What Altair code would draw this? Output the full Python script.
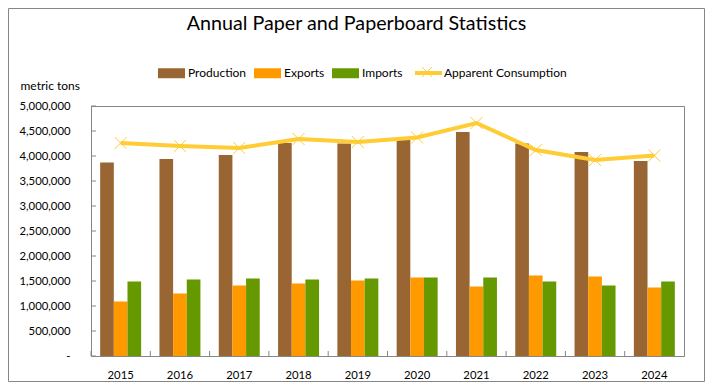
import altair as alt
import pandas as pd

# ---- data ----
years = ["2015", "2016", "2017", "2018", "2019", "2020", "2021", "2022", "2023", "2024"]
production = [3870000, 3940000, 4020000, 4260000, 4250000, 4330000, 4480000, 4250000, 4080000, 3900000]
exports = [1090000, 1250000, 1410000, 1450000, 1510000, 1570000, 1390000, 1610000, 1590000, 1370000]
imports = [1490000, 1530000, 1550000, 1530000, 1550000, 1570000, 1570000, 1490000, 1410000, 1490000]
consumption = [4260000, 4200000, 4160000, 4340000, 4280000, 4370000, 4660000, 4120000, 3920000, 4010000]

series_names = ["Production", "Exports", "Imports"]
bar_colors = ["#996633", "#FF9900", "#669900"]
line_name = "Apparent Consumption"
marker_name = "marker"
line_color = "#FFCC33"
y_ticks = [0, 500000, 1000000, 1500000, 2000000, 2500000, 3000000, 3500000, 4000000, 4500000, 5000000]

rows = []
for name, vals in zip(series_names, [production, exports, imports]):
    for yr, v in zip(years, vals):
        rows.append({"year": yr, "series": name, "value": v})
bars_df = pd.DataFrame(rows)
line_df = pd.DataFrame({"year": years, "value": consumption,
                        "lineSeries": line_name, "markSeries": marker_name})
ytick_df = pd.DataFrame({"value": y_ticks})
xtick_df = pd.DataFrame({"year": years})

FONT = "Lato"
GRAY = "#868686"
FS = 11.3
LFS = 12

P_INNER = 0.309
P_OUTER = 0.1545
WIDTH = 593
HEIGHT = 250
STEP = WIDTH / (len(years) - P_INNER + 2 * P_OUTER)

x_axis = alt.Axis(title=None, labelAngle=0, labelFont=FONT, labelFontSize=FS, labelColor="#000000",
                  labelPadding=13, ticks=False, grid=False)
y_axis = alt.Axis(title="metric tons", titleAngle=0, titleX=-71, titleY=-21, titleAlign="left",
                  titleBaseline="middle", titleFont=FONT, titleFontSize=LFS, titleFontWeight="normal",
                  titleColor="#000000", values=y_ticks,
                  labelExpr="datum.value == 0 ? '-\u00a0\u00a0' : format(datum.value, ',')",
                  labelFont=FONT, labelFontSize=FS, labelColor="#000000", labelPadding=21,
                  ticks=False, grid=False)

x_scale = alt.Scale(domain=years, paddingInner=P_INNER, paddingOuter=P_OUTER)
y_scale = alt.Scale(domain=[0, 5000000], nice=False)
x_enc = alt.X("year:O", sort=years, scale=x_scale, axis=x_axis)
y_enc = alt.Y("value:Q", scale=y_scale, axis=y_axis)

bars = alt.Chart(bars_df).mark_bar().encode(
    x=x_enc,
    y=y_enc,
    xOffset=alt.XOffset("series:N", sort=series_names,
                        scale=alt.Scale(domain=series_names, paddingInner=0, paddingOuter=0)),
    color=alt.Color("series:N", sort=series_names,
                    scale=alt.Scale(domain=series_names, range=bar_colors),
                    legend=alt.Legend(orient="none", legendX=67, legendY=-46.5, direction="horizontal",
                                      title=None, symbolType="M-1,-0.37H1V0.37H-1Z", symbolSize=729,
                                      symbolStrokeWidth=0, labelFont=FONT, labelFontSize=LFS,
                                      labelColor="#000000", labelOffset=3, columnPadding=7,
                                      padding=0)),
)

line = alt.Chart(line_df).mark_line(strokeWidth=4).encode(
    x=x_enc,
    y=y_enc,
    stroke=alt.Stroke("lineSeries:N", scale=alt.Scale(domain=[line_name], range=[line_color]),
                      legend=alt.Legend(orient="none", legendX=322, legendY=-48.5, title=None,
                                        symbolType="M-1,0H1", symbolSize=729, symbolStrokeWidth=4,
                                        labelFont=FONT, labelFontSize=LFS, labelColor="#000000",
                                        labelOffset=0, padding=0)),
)

points = alt.Chart(line_df).mark_point(size=144, strokeWidth=1, filled=False, color=line_color,
                                       opacity=1).encode(
    x=x_enc,
    y=y_enc,
    shape=alt.Shape("markSeries:N",
                    scale=alt.Scale(domain=[marker_name], range=["M-1,-1L1,1M-1,1L1,-1"]),
                    legend=alt.Legend(orient="none", legendX=330.5, legendY=-39.5, title=None,
                                      labelExpr="''", symbolSize=100, symbolStrokeWidth=1,
                                      symbolStrokeColor=line_color, symbolFillColor="transparent",
                                      padding=0)),
)

yticks = alt.Chart(ytick_df).mark_rule(color=GRAY, strokeWidth=1).encode(
    y=y_enc, x=alt.value(0), x2=alt.value(5)
)

xticks = alt.Chart(xtick_df).mark_rule(color=GRAY, strokeWidth=1,
                                       xOffset=-P_INNER * STEP / 2).encode(
    x=alt.X("year:O", sort=years, scale=x_scale, axis=x_axis, bandPosition=0),
    y=alt.value(HEIGHT - 5), y2=alt.value(HEIGHT)
)

border = alt.Chart(pd.DataFrame({"a": [0]})).mark_rect(fillOpacity=0, stroke=GRAY, strokeWidth=1).encode(
    x=alt.value(-82.5), x2=alt.value(613.5), y=alt.value(-97.5), y2=alt.value(275.5)
)

chart = alt.layer(border, bars, yticks, xticks, line, points).properties(
    width=WIDTH,
    height=HEIGHT,
    padding={"left": 83, "top": 98, "right": 21, "bottom": 26},
    autosize=alt.AutoSizeParams(type="none"),
    title=alt.TitleParams("Annual Paper and Paperboard Statistics", font=FONT, fontSize=19.7,
                          fontWeight="normal", color="#000000", anchor="middle", offset=0,
                          dx=-31, dy=26),
    background="white",
).configure_view(stroke=GRAY, strokeWidth=1).configure_axis(
    domainColor=GRAY, tickColor=GRAY, domainWidth=1, tickWidth=1
)

chart.save("out.html", embed_options={"renderer": "svg", "actions": False})
